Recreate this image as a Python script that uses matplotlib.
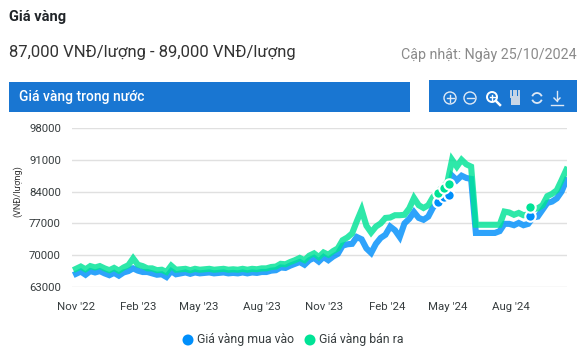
import pandas as pd
import matplotlib.pyplot as plt
import matplotlib.dates as mdates
from matplotlib.patches import Rectangle, Circle, Arc

plt.rcParams['font.family'] = ['Roboto', 'DejaVu Sans']

W, H = 588, 361

# weekly readings, VND/luong
sell = [67000, 67500, 66900, 67600, 67300, 67600, 67100, 66700, 67200, 66600,
        67300, 67800, 69300, 67900, 67600, 67100, 67100, 66700, 66800, 66300,
        67700, 66800, 66900, 67000, 66700, 67000, 66800, 66900, 67000, 66800,
        66900, 67000, 66800, 66900, 66800, 67000, 66800, 67000, 66900, 67100,
        67100, 67400, 67500, 68100, 68000, 68500, 68900, 69400, 68900, 69900,
        70400, 69600, 70600, 70100, 70900, 71500, 73300, 73900, 74800, 77500,
        80000, 76500, 75000, 76300, 77000, 78200, 78300, 78800, 78800, 78900,
        80300, 82600, 81000, 80400, 81000, 82800, 84000, 85000, 86000, 91000,
        89500, 91000, 90000, 89500, 76700, 76700, 76700, 76700, 76700, 76700,
        79600, 79400, 78900, 79300, 78800, 79000, 80200, 80300, 81000, 83000,
        83500, 84300, 86500, 88800]
buy = [65900, 66400, 65700, 66500, 66200, 66500, 66000, 65600, 66100, 65500,
       66200, 66500, 67100, 66600, 66300, 66300, 66000, 65700, 65800, 65200,
       66500, 65800, 66000, 66200, 65900, 66200, 66000, 66100, 66200, 66000,
       66100, 66200, 66000, 66100, 66000, 66200, 66000, 66200, 66100, 66300,
       66300, 66600, 66700, 67300, 67200, 67700, 68100, 68500, 67900, 68900,
       69400, 68600, 69600, 68900, 69700, 70300, 72100, 72400, 72500, 74000,
       73500, 71500, 70500, 72500, 73800, 74500, 76300, 75500, 74000, 77000,
       78000, 79500, 78200, 77800, 78500, 80500, 81800, 82900, 83300, 87500,
       86500, 87500, 87000, 86800, 74900, 74900, 74900, 74900, 74900, 75300,
       76900, 76900, 76600, 77100, 76600, 76900, 78300, 78500, 80000, 81500,
       81800, 82500, 84000, 86500]
dates = pd.date_range('2022-11-01', periods=len(sell), freq='7D')

hover_dates = ['2024-04-16', '2024-04-25', '2024-05-02', '2024-08-30']
hover_sell = [83800, 84900, 85700, 80700]
hover_buy = [81800, 82900, 83300, 78650]

tick_dates = ['2022-11-01', '2023-02-01', '2023-05-01', '2023-08-01',
              '2023-11-01', '2024-02-01', '2024-05-01', '2024-08-01']
tick_labels = ["Nov '22", "Feb '23", "May '23", "Aug '23",
               "Nov '23", "Feb '24", "May '24", "Aug '24"]
y_ticks = [63000, 70000, 77000, 84000, 91000, 98000]

blue = '#008FFB'
green = '#00E396'

fig = plt.figure(figsize=(W / 100, H / 100), dpi=100)

# page overlay in pixel coordinates
page = fig.add_axes([0, 0, 1, 1])
page.set_xlim(0, W)
page.set_ylim(H, 0)
page.axis('off')

page.text(9, 17, 'Giá vàng', fontsize=10.5, fontweight='bold', color='#212529', va='center')
page.text(9, 52, '87,000 VNĐ/lượng - 89,000 VNĐ/lượng', fontsize=12, color='#333333', va='center')
page.text(577, 55, 'Cập nhật: Ngày 25/10/2024', fontsize=10.3, color='#8a8a8a', va='center', ha='right')
page.add_patch(Rectangle((9, 82), 401, 30, color='#1976D2', lw=0))
page.add_patch(Rectangle((429, 80), 148, 32, color='#1976D2', lw=0))
page.text(19, 97, 'Giá vàng trong nước', fontsize=10, fontweight='medium', color='white', va='center')

# toolbar icons
for cx, sign in [(450, '+'), (470, '-')]:
    page.add_patch(Circle((cx, 98), 6, fill=False, ec='#dfe9f5', lw=1))
    page.plot([cx - 3.5, cx + 3.5], [98, 98], color='#dfe9f5', lw=1)
    if sign == '+':
        page.plot([cx, cx], [94.5, 101.5], color='#dfe9f5', lw=1)
page.add_patch(Circle((492, 97), 5, fill=False, ec='white', lw=1.4))
page.plot([496, 500], [101, 105], color='white', lw=1.8)
page.plot([489.5, 494.5], [97, 97], color='white', lw=1)
page.plot([492, 492], [94.5, 99.5], color='white', lw=1)
page.add_patch(Rectangle((510.5, 96), 9, 9, color='#c9d6e6', lw=0))
for fx in [510.5, 513, 515.5, 518]:
    page.plot([fx + 0.6, fx + 0.6], [91, 97], color='#c9d6e6', lw=1.4)
page.add_patch(Arc((537, 98), 10, 10, theta1=200, theta2=340, ec='#dfe9f5', lw=1.3))
page.add_patch(Arc((537, 98), 10, 10, theta1=20, theta2=160, ec='#dfe9f5', lw=1.3))
page.plot([557, 557], [91, 101], color='#dfe9f5', lw=1)
page.plot([554, 557, 560], [98, 101, 98], color='#dfe9f5', lw=1)
page.plot([551, 563], [105, 105], color='#dfe9f5', lw=1)

page.text(18, 191, '(VNĐ/lượng)', fontsize=6.6, color='#333333', rotation=90, ha='center', va='center')

# legend
page.add_patch(Circle((188, 340), 5.5, color=blue, lw=0))
page.text(197, 340, 'Giá vàng mua vào', fontsize=8.8, color='#373d3f', va='center')
page.add_patch(Circle((310, 340), 5.5, color=green, lw=0))
page.text(319, 340, 'Giá vàng bán ra', fontsize=8.8, color='#373d3f', va='center')
page.set_aspect('equal')

# chart area
ax = fig.add_axes([72 / W, 1 - 287 / H, (567 - 72) / W, (287 - 128) / H])
ax.patch.set_alpha(0)
ax.plot(dates, buy, color=blue, lw=4.4, alpha=0.82, solid_joinstyle='miter', zorder=3)
ax.plot(dates, sell, color=green, lw=4.4, alpha=0.82, solid_joinstyle='miter', zorder=4)
hd = pd.to_datetime(hover_dates)
ax.plot(hd, hover_buy, 'o', color=blue, ms=7.5, mec='white', mew=1.5, zorder=5)
ax.plot(hd, hover_sell, 'o', color=green, ms=7.5, mec='white', mew=1.5, zorder=5)

ax.set_xlim(mdates.date2num(pd.Timestamp('2022-11-01')) - 5.9,
            mdates.date2num(pd.Timestamp('2022-11-01')) + 722)
ax.set_ylim(63000, 98000)
ax.set_yticks(y_ticks)
ax.set_xticks(pd.to_datetime(tick_dates))
ax.set_xticklabels(tick_labels)
ax.tick_params(length=0, labelsize=8.2, labelcolor='#373d3f')
ax.tick_params(axis='x', pad=11)
ax.tick_params(axis='y', pad=8)
ax.grid(axis='y', color='#e0e0e0', lw=1)
ax.set_axisbelow(True)
for s in ax.spines.values():
    s.set_visible(False)

fig.savefig('out.png', dpi=100)
